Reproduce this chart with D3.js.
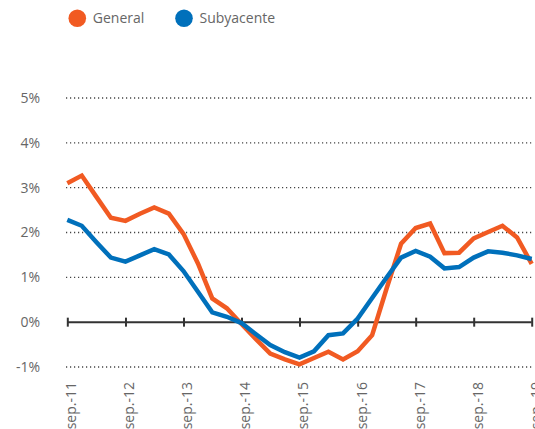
<!DOCTYPE html>
<html>
<head>
<meta charset="utf-8">
<script src="https://cdn.jsdelivr.net/npm/d3@7"></script>
<style>
  body { margin: 0; background: #fff; }
  svg { display: block; font-family: "Open Sans", sans-serif; }
  .lbl { fill: #666; font-size: 14px; }
</style>
</head>
<body>
<div id="chart"></div>
<script>
// trimestres (sep-11 -> sep-19)
var trimestres = ["2011-09","2011-12","2012-03","2012-06","2012-09","2012-12","2013-03","2013-06",
  "2013-09","2013-12","2014-03","2014-06","2014-09","2014-12","2015-03","2015-06",
  "2015-09","2015-12","2016-03","2016-06","2016-09","2016-12","2017-03","2017-06",
  "2017-09","2017-12","2018-03","2018-06","2018-09","2018-12","2019-03","2019-06","2019-09"];

// inflación general (%)
var general = [3.10, 3.27, 2.80, 2.33, 2.26, 2.42, 2.56, 2.42,
  1.97, 1.31, 0.53, 0.31, -0.04, -0.38, -0.70, -0.83,
  -0.94, -0.80, -0.66, -0.83, -0.65, -0.29, 0.74, 1.75,
  2.10, 2.20, 1.54, 1.55, 1.87, 2.01, 2.15, 1.89, 1.30];

// inflación subyacente (%)
var subyacente = [2.28, 2.15, 1.79, 1.44, 1.35, 1.49, 1.63, 1.51,
  1.14, 0.68, 0.22, 0.12, -0.02, -0.27, -0.51, -0.67,
  -0.79, -0.65, -0.29, -0.25, 0.08, 0.54, 0.99, 1.44,
  1.59, 1.46, 1.20, 1.23, 1.44, 1.58, 1.55, 1.49, 1.41];

var ticksY = [-1, 0, 1, 2, 3, 4, 5];
var ticksX = ["2011-09","2012-09","2013-09","2014-09","2015-09","2016-09","2017-09","2018-09","2019-09"];

var series = [
  {nom: "General", valores: general, color: "#f15a22"},
  {nom: "Subyacente", valores: subyacente, color: "#0070bb"}
];

const width = 535, height = 429;
const parse = d3.timeParse("%Y-%m");
const mesesES = {"09": "sep."};

const x = d3.scaleTime()
  .domain([parse(trimestres[0]), parse(trimestres[trimestres.length - 1])])
  .range([67.3, 531.7]);
const y = d3.scaleLinear().domain([-1, 5]).range([367, 98]);

const svg = d3.select("#chart").append("svg")
  .attr("width", width)
  .attr("height", height);

// grille pointillée
svg.append("g").selectAll("line")
  .data(ticksY.filter(d => d !== 0))
  .enter().append("line")
  .attr("x1", 66).attr("x2", 534)
  .attr("y1", d => y(d)).attr("y2", d => y(d))
  .attr("stroke", "#444")
  .attr("stroke-width", 1.3)
  .attr("stroke-dasharray", "1.2,2.8");

// étiquettes Y
svg.append("g").selectAll("text")
  .data(ticksY)
  .enter().append("text")
  .attr("class", "lbl")
  .attr("x", 40)
  .attr("y", d => y(d))
  .attr("dy", "0.35em")
  .attr("text-anchor", "end")
  .text(d => d + "%");

// axe du zéro avec graduations
const axe = d3.axisBottom(x)
  .tickValues(ticksX.map(parse))
  .tickSize(0)
  .tickFormat("");
const gAxe = svg.append("g").attr("transform", "translate(0," + y(0) + ")").call(axe);
gAxe.select(".domain").attr("stroke", "#333").attr("stroke-width", 2).attr("d", "M" + x.range()[0] + ",0H" + x.range()[1]);
gAxe.selectAll(".tick line").attr("y1", -4.5).attr("y2", 4.5).attr("stroke", "#333").attr("stroke-width", 2);

// étiquettes X
svg.append("g").selectAll("text")
  .data(ticksX)
  .enter().append("text")
  .attr("class", "lbl")
  .attr("transform", d => "translate(" + (x(parse(d)) + 4) + ",382) rotate(-90)")
  .attr("dy", "0.35em")
  .attr("text-anchor", "end")
  .text(d => mesesES[d.slice(5)] + "-" + d.slice(2, 4));

// lignes
const line = d3.line()
  .x((d, i) => x(parse(trimestres[i])))
  .y(d => y(d));

svg.append("g").selectAll("path")
  .data(series)
  .enter().append("path")
  .attr("d", d => line(d.valores))
  .attr("fill", "none")
  .attr("stroke", d => d.color)
  .attr("stroke-width", 4.5)
  .attr("stroke-linejoin", "miter");

// légende
const leg = svg.append("g");
const legX = [77.3, 184];
leg.selectAll("circle")
  .data(series)
  .enter().append("circle")
  .attr("cx", (d, i) => legX[i])
  .attr("cy", 18.3)
  .attr("r", 8.8)
  .attr("fill", d => d.color);
leg.selectAll("text")
  .data(series)
  .enter().append("text")
  .attr("class", "lbl")
  .attr("x", (d, i) => legX[i] + 15.5)
  .attr("y", 18.3)
  .attr("dy", "0.35em")
  .text(d => d.nom);
</script>
</body>
</html>
